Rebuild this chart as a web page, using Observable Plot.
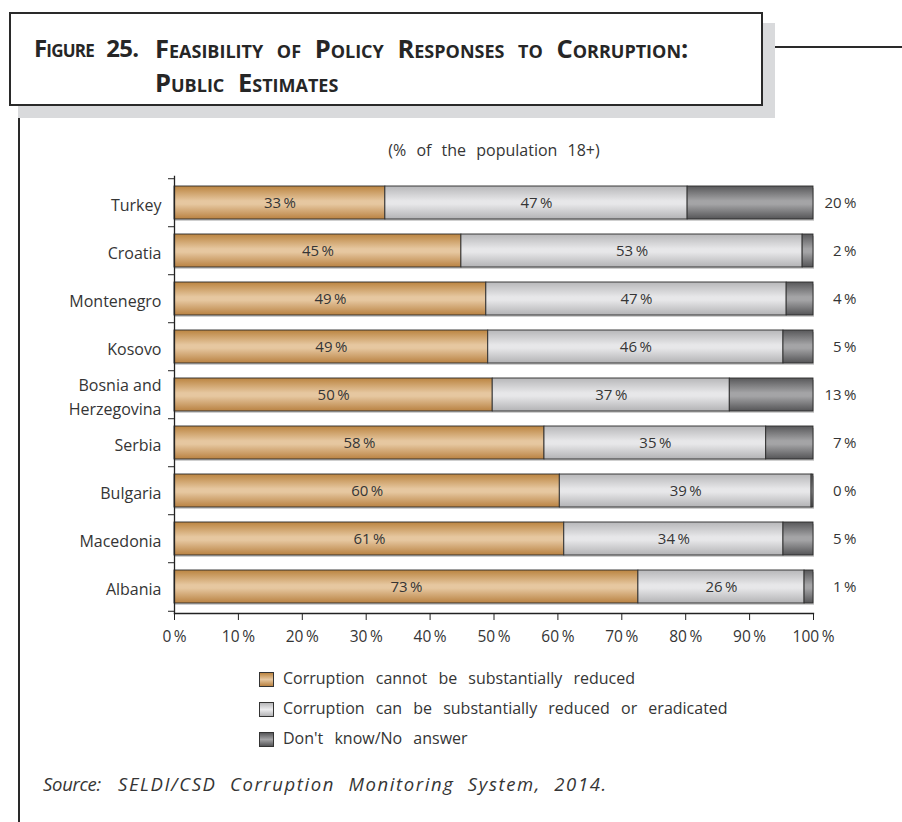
<!DOCTYPE html>
<html>
<head>
<meta charset="utf-8">
<script src="https://cdn.jsdelivr.net/npm/d3@7"></script>
<script src="https://cdn.jsdelivr.net/npm/@observablehq/plot@0.6"></script>
<style>
  html, body { margin: 0; padding: 0; background: #fff; }
  body { width: 902px; height: 822px; position: relative; overflow: hidden; font-family: "Open Sans", Lato, sans-serif; color: #353535; }
  .abs { position: absolute; }
  #shadow { left: 18px; top: 23px; width: 757px; height: 95px; background: #d9dadc; }
  #box { left: 9px; top: 12px; width: 750px; height: 90px; background: #fff; border: 2px solid #2a2a2a; }
  #hline { left: 775px; top: 46px; width: 127px; height: 2px; background: #2a2a2a; }
  #vline { left: 18px; top: 118px; width: 2px; height: 704px; background: #2a2a2a; }
  .title { font-family: "Open Sans", sans-serif; font-weight: bold; font-variant: small-caps; font-size: 25.5px; line-height: 30px; color: #262626; white-space: nowrap; word-spacing: 7px; }
  #subtitle { left: 0; width: 988px; top: 139px; text-align: center; font-size: 16px; word-spacing: 6px; }
  #chart { left: 0; top: 165px; }
  #legend { left: 259px; top: 670px; font-size: 16px; }
  .row { position: relative; height: 30px; word-spacing: 7px; }
  .sw { position: absolute; left: 0; top: 2px; width: 13px; height: 13px; border: 1px solid #333; }
  .lt { position: absolute; left: 24px; top: -3px; white-space: nowrap; }
  .src { top: 771px; font-size: 18.5px; font-style: italic; white-space: nowrap; }
</style>
</head>
<body>
<div id="shadow" class="abs"></div>
<div id="box" class="abs"></div>
<div id="hline" class="abs"></div>
<div id="vline" class="abs"></div>
<div class="abs title" style="left:34px; top:33px; font-size:24px; letter-spacing:-0.8px;">Figure 25.</div>
<div class="abs title" style="left:155px; top:33px;">Feasibility of Policy Responses to Corruption:</div>
<div class="abs title" style="left:155px; top:67px;">Public Estimates</div>
<div id="subtitle" class="abs">(% of the population 18+)</div>
<div id="chart" class="abs"></div>
<div id="legend" class="abs"></div>
<div class="abs src" style="left:43px; letter-spacing:-0.3px;">Source:</div>
<div class="abs src" style="left:118px; letter-spacing:1.6px; word-spacing:7px;">SELDI/CSD Corruption Monitoring System, 2014.</div>
<script>
// ---- data ----
const countries = ["Turkey", "Croatia", "Montenegro", "Kosovo", "Bosnia and Herzegovina", "Serbia", "Bulgaria", "Macedonia", "Albania"];
const series = ["Corruption cannot be substantially reduced", "Corruption can be substantially reduced or eradicated", "Don't know/No answer"];
const cannotReduce = [33.0, 44.9, 48.8, 49.1, 49.8, 57.9, 60.3, 61.0, 72.6];
const canReduce    = [47.3, 53.4, 47.0, 46.2, 37.1, 34.7, 39.4, 34.3, 26.0];
const dontKnow     = [19.7, 1.7, 4.2, 4.7, 13.1, 7.4, 0.3, 4.7, 1.4];
const xTicks = [0, 10, 20, 30, 40, 50, 60, 70, 80, 90, 100];

const fills = ["url(#gOrange)", "url(#gLight)", "url(#gDark)"];
const cols = [cannotReduce, canReduce, dontKnow];
const rows = [];
countries.forEach((c, i) => {
  let acc = 0;
  cols.forEach((arr, s) => {
    const v = arr[i];
    rows.push({country: c, series: series[s], s, value: v, x1: acc, x2: acc + v});
    acc += v;
  });
});
const fmt = v => Math.round(v) + "\u2009%";
const labelOf = c => c === "Bosnia and Herzegovina" ? "Bosnia and\nHerzegovina" : c;

const marginTop = 11, marginBottom = 41, plotH = 437;
const step = plotH / countries.length;
const font = "'Open Sans', Lato, sans-serif";

const plot = Plot.plot({
  width: 902,
  height: marginTop + plotH + marginBottom,
  marginTop, marginBottom,
  marginLeft: 174, marginRight: 89,
  style: {fontFamily: font, fontSize: "15px", color: "#353535", background: "transparent"},
  x: {domain: [0, 100], axis: null},
  y: {domain: countries, paddingInner: 0.31, paddingOuter: 0.155, axis: null},
  color: {domain: series, range: fills},
  marks: [
    // drop shadow of bars
    Plot.barX(countries, {y: d => d, x1: 0, x2: 100, fill: "#cfcfcf", dy: 2, dx: 1}),
    Plot.barX(rows, {y: "country", x1: "x1", x2: "x2", fill: "series", stroke: "#2b2b2b", strokeWidth: 0.9}),
    Plot.text(rows.filter(d => d.s < 2), {y: "country", x: d => (d.x1 + d.x2) / 2, text: d => fmt(d.value), fill: "#353535", fontSize: 15}),
    Plot.text(rows.filter(d => d.s === 2), {y: "country", x: 100, dx: 43, textAnchor: "end", text: d => fmt(d.value), fill: "#353535", fontSize: 15}),
    // axes
    Plot.frame({anchor: "left", stroke: "#222", strokeWidth: 1.3}),
    Plot.frame({anchor: "bottom", stroke: "#222", strokeWidth: 1.3}),
    Plot.axisY({label: null, tickSize: 0, tickPadding: 13, tickFormat: labelOf, fontSize: 16, lineHeight: 1.5, fill: "#353535", style: {wordSpacing: "4px"}}),
    Plot.axisY({label: null, tickSize: 6, tickFormat: () => "", dy: -step / 2, stroke: "#222"}),
    Plot.axisY({label: null, ticks: ["Albania"], tickSize: 6, tickFormat: () => "", dy: step / 2, stroke: "#222"}),
    Plot.axisX({label: null, ticks: xTicks, tickSize: 7, tickPadding: 10, tickFormat: d => d + "\u2009%", fontSize: 15.5, stroke: "#222", fill: "#353535"})
  ]
});

// gradients
const svg = d3.select(plot);
const defs = svg.insert("defs", ":first-child");
function grad(id, edge, mid, edge2) {
  const g = defs.append("linearGradient").attr("id", id).attr("x1", 0).attr("y1", 0).attr("x2", 0).attr("y2", 1);
  g.append("stop").attr("offset", "0%").attr("stop-color", edge);
  g.append("stop").attr("offset", "45%").attr("stop-color", mid);
  g.append("stop").attr("offset", "55%").attr("stop-color", mid);
  g.append("stop").attr("offset", "100%").attr("stop-color", edge2);
}
grad("gOrange", "#bb8440", "#e6c7a0", "#b98242");
grad("gLight", "#b7b7b9", "#e7e7e9", "#b3b3b5");
grad("gDark", "#58585a", "#a4a4a6", "#555557");
document.getElementById("chart").appendChild(plot);

// legend
const cssGrads = [
  "linear-gradient(#bb8440, #e6c7a0 50%, #b98242)",
  "linear-gradient(#b7b7b9, #ececee 50%, #b3b3b5)",
  "linear-gradient(#58585a, #a4a4a6 50%, #555557)"
];
const legend = document.getElementById("legend");
series.forEach((s, i) => {
  const r = document.createElement("div");
  r.className = "row";
  r.innerHTML = `<div class="sw" style="background:${cssGrads[i]}"></div><div class="lt">${s}</div>`;
  legend.appendChild(r);
});
</script>
</body>
</html>
